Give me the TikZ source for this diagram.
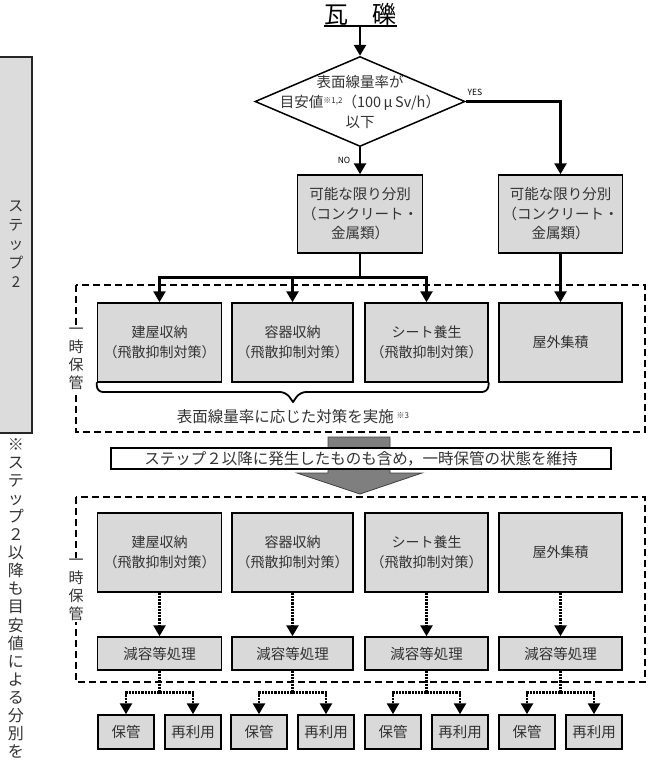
\documentclass[tikz,border=0pt]{standalone}
\usepackage{fontspec}
\setmainfont{Noto Sans CJK JP}
\usetikzlibrary{arrows.meta,shapes.geometric}
\definecolor{boxgray}{HTML}{D9D9D9}
\definecolor{bargray}{HTML}{DCDCDC}
\definecolor{arrgray}{HTML}{7F7F7F}
\definecolor{txt}{HTML}{333333}
\begin{document}
\begin{tikzpicture}[x=1pt,y=-1pt,
  box/.style={draw=black, line width=1.5pt, fill=boxgray, inner sep=0pt, text=txt, align=center, font=\fontsize{14.5}{19.5}\selectfont},
  arr/.style={line width=2.6pt, -{Triangle[length=11pt,width=12pt]}},
  thk/.style={line width=2.6pt},
  dots/.style={line width=2.6pt, dash pattern=on 2.2pt off 1pt},
  darr/.style={dots, -{Triangle[length=11pt,width=12pt]}},
  dbox/.style={line width=2.2pt, dash pattern=on 7pt off 4pt},
  vlab/.style={fill=white, inner sep=1.5pt, align=center, text=txt, font=\fontsize{15}{18}\selectfont},
]
\useasboundingbox (0,0) rectangle (653,764);

% left bar and notes
\node[draw=black!85, line width=1.2pt, fill=bargray, minimum width=37pt, minimum height=376pt, inner sep=0pt] (bar) at (13.5,245) {};
\node[align=center, inner sep=0pt, text=txt, font=\fontsize{15}{19}\selectfont] (bartext) at (16,244) {ス\\テ\\ッ\\プ\\2};
\node[anchor=north, align=center, inner sep=0pt, text=txt, font=\fontsize{16}{18.1}\selectfont] (note) at (16,438) {※\\ス\\テ\\ッ\\プ\\２\\以\\降\\も\\目\\安\\値\\に\\よ\\る\\分\\別\\を};

% title
\node[inner sep=0pt, font=\fontsize{24}{24}\selectfont] (title) at (360.5,14) {瓦　礫};
\draw[line width=1.8pt] (324,26) -- (397,26);
\coordinate (tu) at (360,26);

% decision
\node[diamond, draw=black, line width=1.5pt, minimum width=210pt, minimum height=90pt, inner sep=0pt] (dia) at (360,101.5) {};
\node[align=center, inner sep=0pt, text=txt, font=\fontsize{14.5}{20}\selectfont] (diat) at (dia.center) {表面線量率が\\目安値{\fontsize{8}{8}\selectfont\raisebox{4pt}{※1,2}}（100\,μ\,Sv/h）\\以下};
\node[inner sep=0pt, font=\fontsize{8.5}{8.5}\selectfont] (yes) at (475,92) {YES};
\node[inner sep=0pt, font=\fontsize{8.5}{8.5}\selectfont] (no) at (344,160) {NO};

\draw[arr] (tu) -- (dia.north);

% sorting boxes
\node[box, minimum width=125pt, minimum height=78pt] (sL) at (360,214) {可能な限り分別\\（コンクリート・\\金属類）};
\node[box, minimum width=124pt, minimum height=78pt] (sR) at (560.5,214) {可能な限り分別\\（コンクリート・\\金属類）};
\draw[arr] (dia.south) -- (sL.north);
\draw[arr] (dia.east) -| (sR.north);

% temporary storage 1
\draw[dbox] (76,285) rectangle (645,432);
\node[vlab] (lab1) at (76,359) {一\\時\\保\\管};
\node[box, minimum width=124pt, minimum height=79pt, font=\fontsize{14}{20}\selectfont] (b11) at (159.5,342.5) {建屋収納\\（飛散抑制対策）};
\node[box, minimum width=121pt, minimum height=79pt, font=\fontsize{14}{20}\selectfont] (b12) at (292.5,342.5) {容器収納\\（飛散抑制対策）};
\node[box, minimum width=123pt, minimum height=79pt, font=\fontsize{14}{20}\selectfont] (b13) at (426.5,342.5) {シート養生\\（飛散抑制対策）};
\node[box, minimum width=123pt, minimum height=79pt, font=\fontsize{14}{20}\selectfont] (b14) at (560.5,342.5) {屋外集積};

\draw[thk] (sL.south) -- ++(0,24) coordinate (j1);
\draw[arr] (j1) -| (b11.north);
\draw[arr] (j1) -| (b13.north);
\draw[arr] (b12.north |- j1) -- (b12.north);
\draw[arr] (sR.south) -- (b14.north);

% brace
\draw[line width=1.8pt, rounded corners=6pt, line cap=round] (b11.south west) -- (97,392) -- (286,392) -- (293,402);
\draw[line width=1.8pt, rounded corners=6pt, line cap=round] (b13.south east) -- (488,392) -- (300,392) -- (293,402);
\node[inner sep=0pt, text=txt, font=\fontsize{15.5}{16}\selectfont] (brtext) at (293,417) {表面線量率に応じた対策を実施\,{\fontsize{8}{8}\selectfont\raisebox{4pt}{※3}}};

% big arrow
\filldraw[fill=arrgray, draw=black!75, line width=0.8pt] (328,437) -- (390,437) -- (390,473) -- (422,473) -- (360,494) -- (297,473) -- (328,473) -- cycle;
\node[draw=black, line width=1.3pt, fill=white, minimum width=500pt, minimum height=21pt, inner sep=0pt, text=txt, font=\fontsize{15.5}{16}\selectfont] (mid) at (361,458.5) {ステップ２以降に発生したものも含め，一時保管の状態を維持};

% temporary storage 2
\draw[dbox] (76,497) rectangle (645,682);
\node[vlab] (lab2) at (76,590) {一\\時\\保\\管};
\node[box, minimum width=124pt, minimum height=79pt, font=\fontsize{14}{20}\selectfont] (b21) at (159.5,552.5) {建屋収納\\（飛散抑制対策）};
\node[box, minimum width=121pt, minimum height=79pt, font=\fontsize{14}{20}\selectfont] (b22) at (292.5,552.5) {容器収納\\（飛散抑制対策）};
\node[box, minimum width=123pt, minimum height=79pt, font=\fontsize{14}{20}\selectfont] (b23) at (426.5,552.5) {シート養生\\（飛散抑制対策）};
\node[box, minimum width=123pt, minimum height=79pt, font=\fontsize{14}{20}\selectfont] (b24) at (560.5,552.5) {屋外集積};

\foreach \i/\cx/\w in {1/159.5/124,2/292.5/121,3/426.5/123,4/560.5/123}{
  \node[box, minimum width=\w pt, minimum height=33pt] (r\i) at (\cx,653.5) {減容等処理};
  \node[box, minimum width=56pt, minimum height=34pt] (p\i) at (\cx-33.5,732) {保管};
  \node[box, minimum width=56pt, minimum height=34pt] (q\i) at (\cx+33.5,732) {再利用};
  \draw[darr] (b2\i.south) -- (r\i.north);
  \draw[dots] (r\i.south) -- ++(0,22) coordinate (k\i);
  \draw[darr] (k\i) -| (p\i.north);
  \draw[darr] (k\i) -| (q\i.north);
}
\end{tikzpicture}
\end{document}
